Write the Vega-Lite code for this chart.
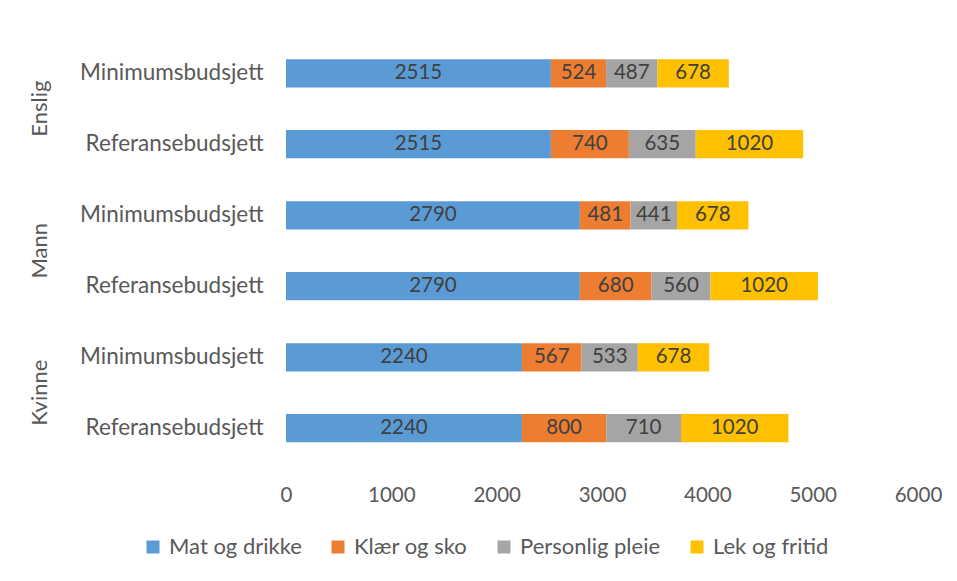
{
  "$schema": "https://vega.github.io/schema/vega-lite/v6.json",
  "background": "white",
  "padding": {"left": 28, "top": 38, "right": 10, "bottom": 10},
  "data": {"values": [
    {"group": "Enslig", "budget": "Minimumsbudsjett", "cat": "Mat og drikke", "ord": 1, "value": 2515},
    {"group": "Enslig", "budget": "Minimumsbudsjett", "cat": "Klær og sko", "ord": 2, "value": 524},
    {"group": "Enslig", "budget": "Minimumsbudsjett", "cat": "Personlig pleie", "ord": 3, "value": 487},
    {"group": "Enslig", "budget": "Minimumsbudsjett", "cat": "Lek og fritid", "ord": 4, "value": 678},
    {"group": "Enslig", "budget": "Referansebudsjett", "cat": "Mat og drikke", "ord": 1, "value": 2515},
    {"group": "Enslig", "budget": "Referansebudsjett", "cat": "Klær og sko", "ord": 2, "value": 740},
    {"group": "Enslig", "budget": "Referansebudsjett", "cat": "Personlig pleie", "ord": 3, "value": 635},
    {"group": "Enslig", "budget": "Referansebudsjett", "cat": "Lek og fritid", "ord": 4, "value": 1020},
    {"group": "Mann", "budget": "Minimumsbudsjett", "cat": "Mat og drikke", "ord": 1, "value": 2790},
    {"group": "Mann", "budget": "Minimumsbudsjett", "cat": "Klær og sko", "ord": 2, "value": 481},
    {"group": "Mann", "budget": "Minimumsbudsjett", "cat": "Personlig pleie", "ord": 3, "value": 441},
    {"group": "Mann", "budget": "Minimumsbudsjett", "cat": "Lek og fritid", "ord": 4, "value": 678},
    {"group": "Mann", "budget": "Referansebudsjett", "cat": "Mat og drikke", "ord": 1, "value": 2790},
    {"group": "Mann", "budget": "Referansebudsjett", "cat": "Klær og sko", "ord": 2, "value": 680},
    {"group": "Mann", "budget": "Referansebudsjett", "cat": "Personlig pleie", "ord": 3, "value": 560},
    {"group": "Mann", "budget": "Referansebudsjett", "cat": "Lek og fritid", "ord": 4, "value": 1020},
    {"group": "Kvinne", "budget": "Minimumsbudsjett", "cat": "Mat og drikke", "ord": 1, "value": 2240},
    {"group": "Kvinne", "budget": "Minimumsbudsjett", "cat": "Klær og sko", "ord": 2, "value": 567},
    {"group": "Kvinne", "budget": "Minimumsbudsjett", "cat": "Personlig pleie", "ord": 3, "value": 533},
    {"group": "Kvinne", "budget": "Minimumsbudsjett", "cat": "Lek og fritid", "ord": 4, "value": 678},
    {"group": "Kvinne", "budget": "Referansebudsjett", "cat": "Mat og drikke", "ord": 1, "value": 2240},
    {"group": "Kvinne", "budget": "Referansebudsjett", "cat": "Klær og sko", "ord": 2, "value": 800},
    {"group": "Kvinne", "budget": "Referansebudsjett", "cat": "Personlig pleie", "ord": 3, "value": 710},
    {"group": "Kvinne", "budget": "Referansebudsjett", "cat": "Lek og fritid", "ord": 4, "value": 1020}
  ]},
  "facet": {
    "row": {
      "field": "group",
      "type": "nominal",
      "sort": ["Enslig", "Mann", "Kvinne"],
      "title": null,
      "header": {
        "labelAngle": -90,
        "labelOrient": "left",
        "labelAnchor": "middle",
        "labelFont": "Lato",
        "labelFontSize": 22,
        "labelColor": "#595959",
        "labelPadding": 18
      }
    }
  },
  "spacing": {"row": 0},
  "spec": {
    "width": 632,
    "height": 141.4,
    "encoding": {
      "y": {
        "field": "budget",
        "type": "nominal",
        "sort": ["Minimumsbudsjett", "Referansebudsjett"],
        "scale": {"paddingInner": 0.6, "paddingOuter": 0.3},
        "axis": {
          "title": null,
          "domain": false,
          "ticks": false,
          "labelPadding": 23,
          "labelLimit": 400,
          "labelFont": "Lato",
          "labelFontSize": 22.5,
          "labelColor": "#595959"
        }
      },
      "x": {
        "field": "value",
        "type": "quantitative",
        "stack": "zero",
        "scale": {"domain": [0, 6000], "nice": false},
        "axis": {
          "title": null,
          "grid": false,
          "domain": false,
          "ticks": false,
          "labelFlush": false,
          "values": [0, 1000, 2000, 3000, 4000, 5000, 6000],
          "format": "d",
          "labelPadding": 21,
          "labelFont": "Lato",
          "labelFontSize": 20.5,
          "labelColor": "#595959"
        }
      },
      "order": {"field": "ord", "type": "quantitative"}
    },
    "layer": [
      {
        "mark": {"type": "bar"},
        "encoding": {
          "color": {
            "field": "cat",
            "type": "nominal",
            "scale": {
              "domain": ["Mat og drikke", "Klær og sko", "Personlig pleie", "Lek og fritid"],
              "range": ["#5B9BD5", "#ED7D31", "#A5A5A5", "#FFC000"]
            },
            "legend": {
              "title": null,
              "orient": "bottom",
              "direction": "horizontal",
              "symbolType": "square",
              "symbolSize": 169,
              "symbolStrokeWidth": 0,
              "labelFont": "Lato",
              "labelFontSize": 22,
              "labelColor": "#595959",
              "labelOffset": 5,
              "columnPadding": 25,
              "offset": 30
            }
          }
        }
      },
      {
        "mark": {"type": "text", "font": "Lato", "fontSize": 20.5, "color": "#404040"},
        "encoding": {
          "x": {"field": "value", "type": "quantitative", "stack": "zero", "bandPosition": 0.5},
          "detail": {"field": "cat", "type": "nominal"},
          "text": {"field": "value", "type": "quantitative", "format": "d"}
        }
      }
    ]
  },
  "config": {
    "view": {"stroke": null},
    "legend": {"layout": {"bottom": {"anchor": "middle"}}}
  }
}
